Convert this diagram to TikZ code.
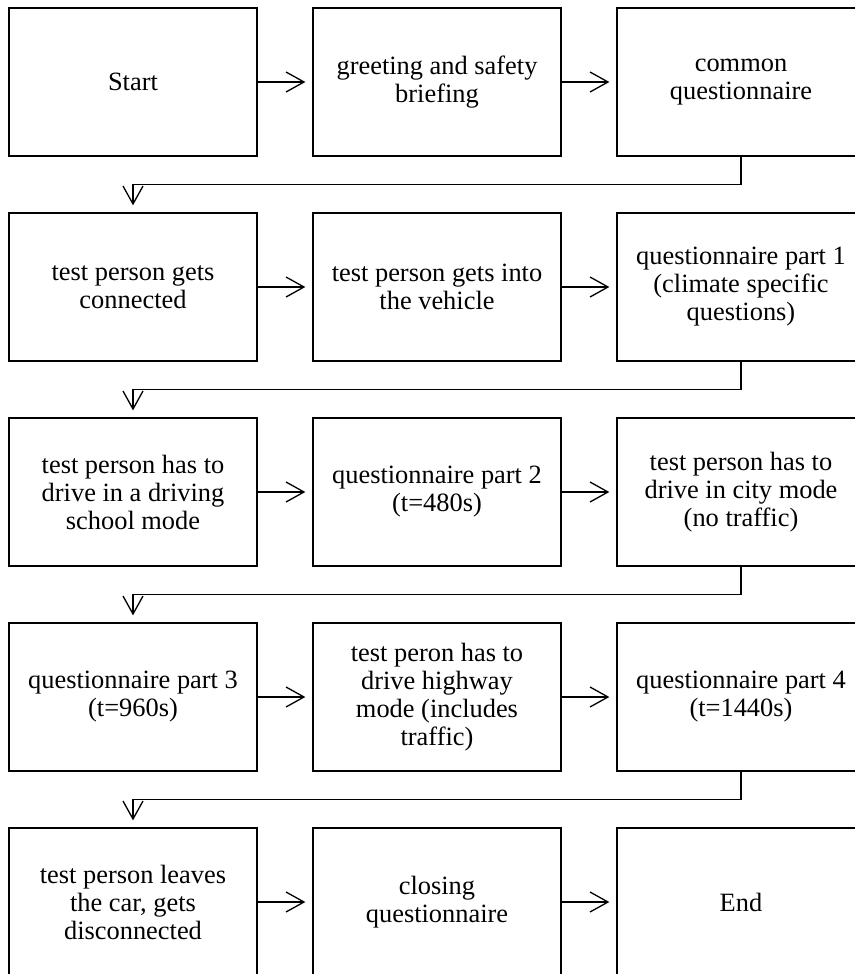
\documentclass[tikz,border=0pt]{standalone}
\usepackage{fontspec}
\setmainfont{Liberation Serif}
\usepackage{tikz}
\usetikzlibrary{arrows.meta}

\tikzset{
  stage/.style={draw,line width=1.3pt,inner sep=0pt,
    minimum width=248pt,minimum height=148pt,align=center,
    font=\fontsize{26.4}{28}\selectfont},
  flow/.style={line width=1.3pt,shorten >=7pt,
    -{Straight Barb[length=18pt,width=20pt,line width=1.3pt]}}
}

\begin{document}
\begin{tikzpicture}[x=1pt,y=-1pt]
  \useasboundingbox (0,0) rectangle (854,974);

  %% ── row 1 ──
  \node[stage] (a1) at (133,82) {Start};
  \node[stage] (b1) at (437,82) {greeting and safety\\briefing};
  \node[stage] (c1) at (741,82) {common\\questionnaire};

  %% ── row 2 ──
  \node[stage] (a2) at (133,287) {test person gets\\connected};
  \node[stage] (b2) at (437,287) {test person gets into\\the vehicle};
  \node[stage] (c2) at (741,287) {questionnaire part 1\\(climate specific\\questions)};

  %% ── row 3 ──
  \node[stage] (a3) at (133,492) {test person has to\\drive in a driving\\school mode};
  \node[stage] (b3) at (437,492) {questionnaire part 2\\(t=480s)};
  \node[stage] (c3) at (741,492) {test person has to\\drive in city mode\\(no traffic)};

  %% ── row 4 ──
  \node[stage] (a4) at (133,697) {questionnaire part 3\\(t=960s)};
  \node[stage] (b4) at (437,697) {test peron has to\\drive highway\\mode (includes\\traffic)};
  \node[stage] (c4) at (741,697) {questionnaire part 4\\(t=1440s)};

  %% ── row 5 ──
  \node[stage] (a5) at (133,902) {test person leaves\\the car, gets\\disconnected};
  \node[stage] (b5) at (437,902) {closing\\questionnaire};
  \node[stage] (c5) at (741,902) {End};

  %% ── arrows within rows ──
  \draw[flow] (a1) -- (b1);  \draw[flow] (b1) -- (c1);
  \draw[flow] (a2) -- (b2);  \draw[flow] (b2) -- (c2);
  \draw[flow] (a3) -- (b3);  \draw[flow] (b3) -- (c3);
  \draw[flow] (a4) -- (b4);  \draw[flow] (b4) -- (c4);
  \draw[flow] (a5) -- (b5);  \draw[flow] (b5) -- (c5);

  %% ── wrap to next row ──
  \draw[flow] (c1.south) -- ++(0,28) -| (a2.north);
  \draw[flow] (c2.south) -- ++(0,28) -| (a3.north);
  \draw[flow] (c3.south) -- ++(0,28) -| (a4.north);
  \draw[flow] (c4.south) -- ++(0,28) -| (a5.north);
\end{tikzpicture}
\end{document}
